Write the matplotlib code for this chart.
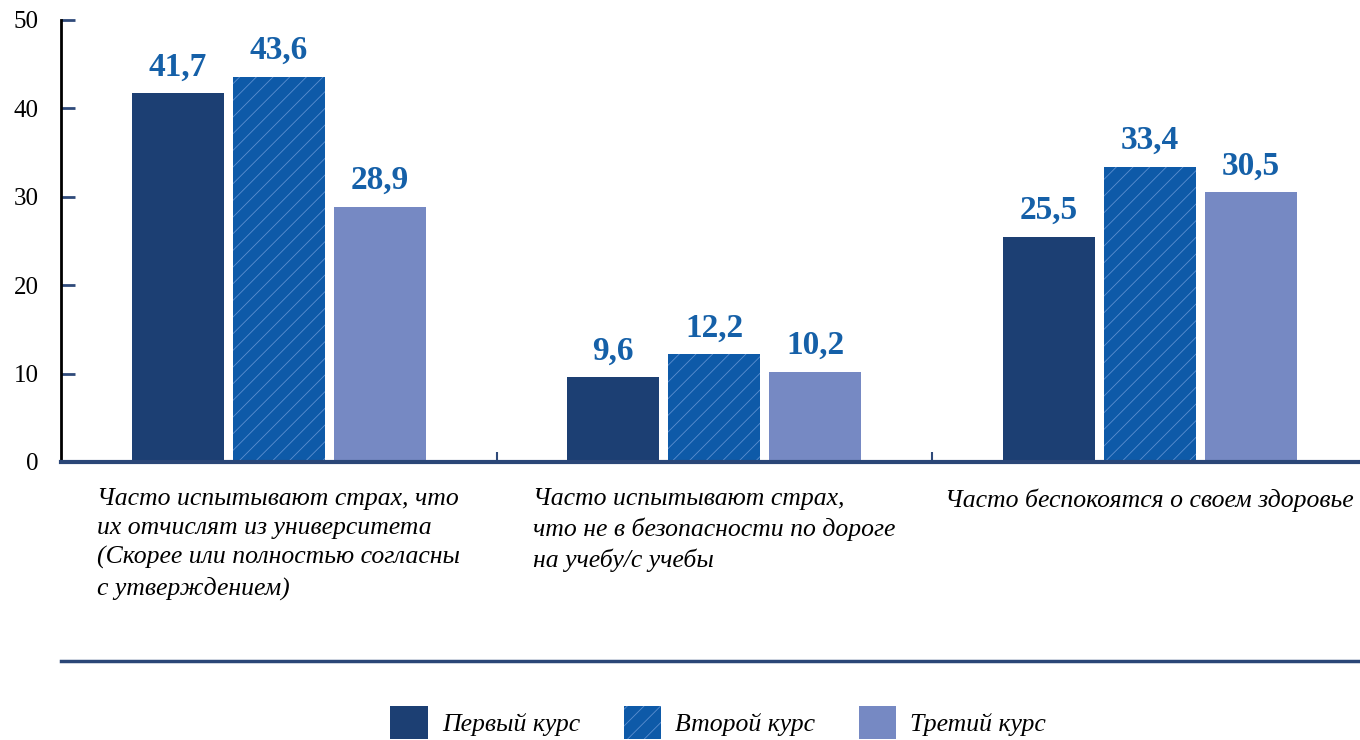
import matplotlib.pyplot as plt
import numpy as np
from matplotlib.lines import Line2D
from matplotlib.patches import Patch

plt.rcParams['font.family'] = ['Liberation Serif', 'DejaVu Serif']
plt.rcParams['hatch.linewidth'] = 0.6

# data
categories = ['Часто испытывают страх, что\nих отчислят из университета\n(Скорее или полностью согласны\nс утверждением)',
              'Часто испытывают страх,\nчто не в безопасности по дороге\nна учебу/с учебы',
              'Часто беспокоятся о своем здоровье']
series_names = ['Первый курс', 'Второй курс', 'Третий курс']
first_year = [41.7, 9.6, 25.5]
second_year = [43.6, 12.2, 33.4]
third_year = [28.9, 10.2, 30.5]

colors = ['#1c3f73', '#0e5aa8', '#7689c3']
hatches = [None, '//', None]
label_color = '#1560a8'

fig = plt.figure(figsize=(13.6, 7.4), dpi=100)
ax = fig.add_axes([61/1360, 1-462/740, 1306.5/1360, 442/740])

x = np.arange(len(categories))
w = 0.211
step = 0.232
for i, vals in enumerate([first_year, second_year, third_year]):
    pos = x + (i - 1) * step
    bars = ax.bar(pos, vals, width=w, color=colors[i], hatch=hatches[i],
                  edgecolor='#5b8fd0' if hatches[i] else colors[i], linewidth=0, zorder=2)
    for b, v in zip(bars, vals):
        ax.text(b.get_x() + b.get_width()/2, v + 1.2, f'{v:.1f}'.replace('.', ','),
                ha='center', va='bottom', fontsize=24, fontweight='bold', color=label_color)

ax.set_xlim(-0.5, 2.5)
ax.set_ylim(0, 50)
ax.set_yticks([0, 10, 20, 30, 40, 50])
ax.tick_params(axis='y', direction='in', length=10, width=2, color='#2f4a7a',
               labelsize=18, pad=16)
ax.set_xticks(x)
ax.set_xticklabels(categories, fontsize=18.5, style='italic', ha='center',
                   multialignment='left', linespacing=1.4)
ax.tick_params(axis='x', length=0, pad=19)
ax.set_xticks([0.5, 1.5], minor=True)
ax.tick_params(axis='x', which='minor', direction='in', length=7, width=1.5, color='#2f4a7a')

for s in ['top', 'right']:
    ax.spines[s].set_visible(False)
ax.spines['left'].set_color('black')
ax.spines['left'].set_linewidth(2)
ax.spines['bottom'].set_color('#2a4677')
ax.spines['bottom'].set_linewidth(3)

fig.add_artist(Line2D([61/1360, 1], [1-661/740, 1-661/740], color='#2a4677', lw=2.5))

handles = [Patch(facecolor=colors[i], hatch=hatches[i],
                 edgecolor='#5b8fd0' if hatches[i] else colors[i], linewidth=0)
           for i in range(3)]
fig.legend(handles, series_names, loc='lower center', bbox_to_anchor=(0.528, -0.03),
           ncol=3, frameon=False, prop={'size': 18.5, 'style': 'italic'},
           handlelength=1.45, handleheight=1.6, columnspacing=1.7, handletextpad=0.55)

fig.savefig('out.png', dpi=100)
